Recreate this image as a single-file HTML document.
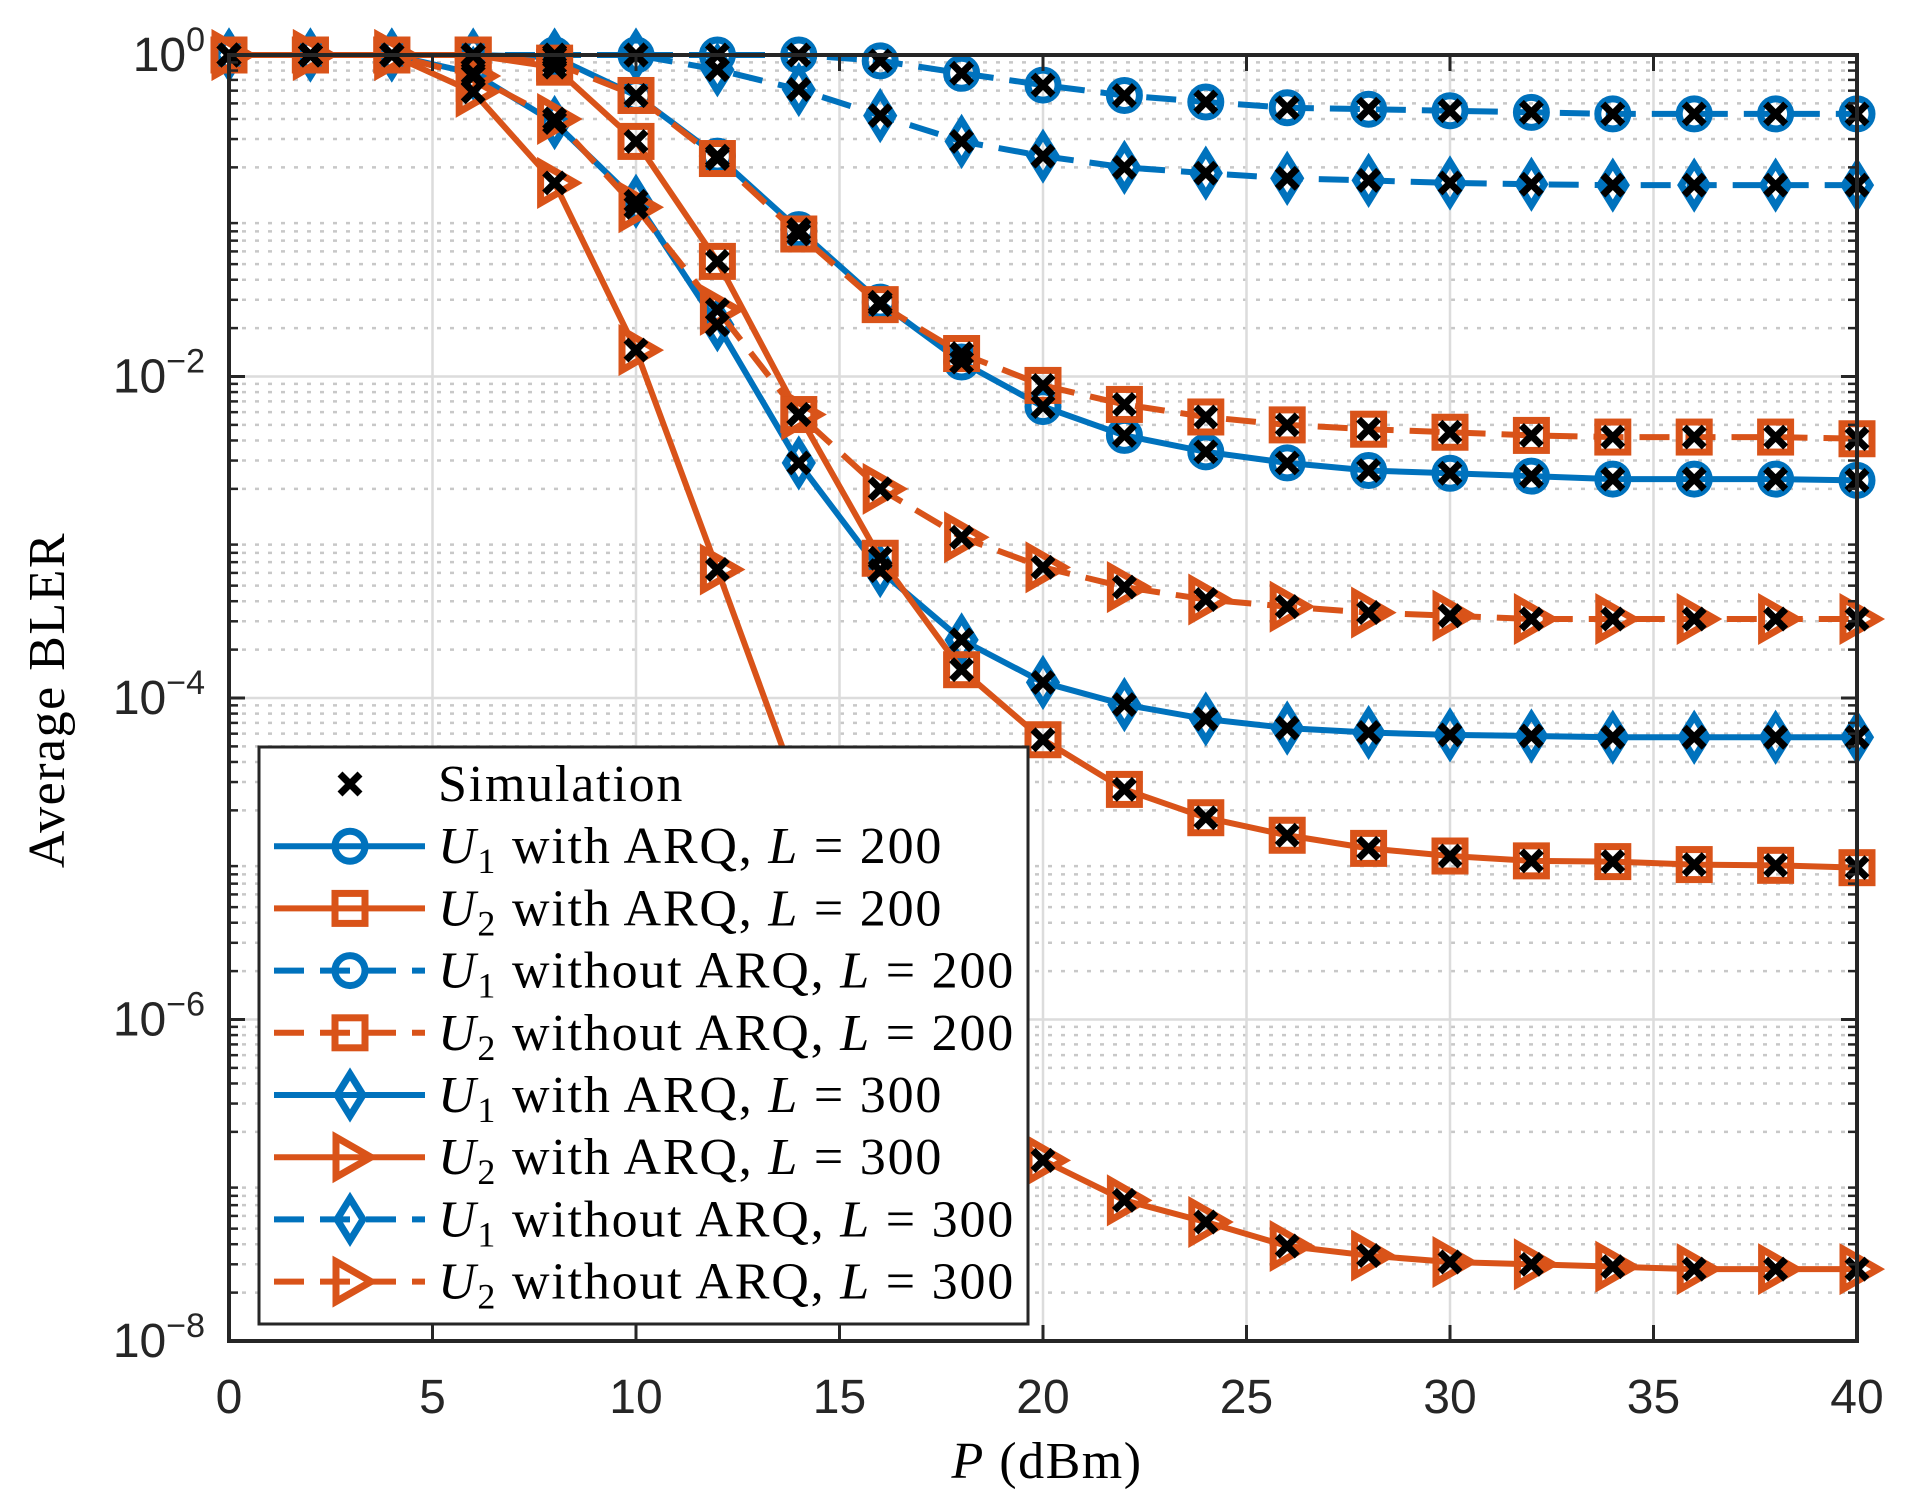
<!DOCTYPE html>
<html><head><meta charset="utf-8"><style>
html,body{margin:0;padding:0;background:#fff;}
svg{display:block;}
</style></head><body>
<svg id="chart" xmlns="http://www.w3.org/2000/svg" width="1910" height="1512" viewBox="0 0 1910 1512">
<rect x="0" y="0" width="1910" height="1512" fill="#fff"/>
<g id="grid"></g>
<g id="series"></g>
<g id="axes"></g>
<g id="legend"></g>
</svg>
<script>
const xValues = [0,2,4,6,8,10,12,14,16,18,20,22,24,26,28,30,32,34,36,38,40];
const xTicks = [0,5,10,15,20,25,30,35,40];
const yTickExps = [0,-2,-4,-6,-8];
const u1ArqL200 = [1,1,1,1,0.97,0.56,0.235,0.082,0.029,0.0123,0.0065,0.0043,0.0034,0.0029,0.0026,0.0025,0.0024,0.0023,0.0023,0.0023,0.00226];
const u2ArqL200 = [1,1,1,1,0.84,0.29,0.052,0.0058,7.4e-4,1.5e-4,5.5e-5,2.7e-5,1.8e-5,1.4e-5,1.16e-5,1.04e-5,9.7e-6,9.6e-6,9.2e-6,9.1e-6,8.8e-6];
const u1NoL200 = [1,1,1,1,1,1,1,1,0.92,0.77,0.65,0.56,0.51,0.47,0.46,0.45,0.44,0.43,0.43,0.43,0.43];
const u2NoL200 = [1,1,1,1,0.89,0.56,0.227,0.077,0.028,0.0139,0.0088,0.0067,0.0056,0.005,0.0047,0.0045,0.0043,0.0042,0.0042,0.0042,0.0041];
const u1ArqL300 = [1,1,1,0.77,0.38,0.123,0.021,0.0029,6.2e-4,2.3e-4,1.25e-4,9.1e-5,7.4e-5,6.5e-5,6.1e-5,5.9e-5,5.8e-5,5.7e-5,5.7e-5,5.7e-5,5.7e-5];
const u2ArqL300 = [1,1,1,0.59,0.16,0.0146,6.3e-4,2.6e-5,2.25e-6,3.6e-7,1.33e-7,7.5e-8,5.5e-8,3.9e-8,3.4e-8,3.1e-8,3.0e-8,2.9e-8,2.8e-8,2.8e-8,2.8e-8];
const u1NoL300 = [1,1,1,1,1,1,0.81,0.61,0.42,0.29,0.235,0.2,0.184,0.171,0.166,0.16,0.157,0.155,0.155,0.155,0.155];
const u2NoL300 = [1,1,1,0.74,0.4,0.113,0.026,0.0058,0.002,0.001,6.5e-4,4.9e-4,4.1e-4,3.7e-4,3.4e-4,3.25e-4,3.1e-4,3.1e-4,3.1e-4,3.1e-4,3.1e-4];

const NS='http://www.w3.org/2000/svg';
const X0=229,X1=1857,YT=55,YB=1341;
const xs=v=>X0+(v-0)/(40-0)*(X1-X0);
const ys=v=>YT+(-Math.log10(v))/8*(YB-YT);
const BLUE='#0072BD',RED='#D95319',AX='#262626';
function el(tag,attrs,parent){const e=document.createElementNS(NS,tag);for(const k in attrs)e.setAttribute(k,attrs[k]);parent.appendChild(e);return e;}
const grid=document.getElementById('grid'),axes=document.getElementById('axes'),ser=document.getElementById('series'),leg=document.getElementById('legend');

for(let d=0;d<8;d++){for(let m=2;m<=9;m++){const y=ys(m*Math.pow(10,-d-1));
 const g=el('line',{x1:X0,x2:X1,y1:y,y2:y,stroke:'#c8c8c8','stroke-width':2.5,'stroke-dasharray':'4 9'},grid);
 
 
 const t1=el('line',{x1:X0,x2:X0+9,y1:y,y2:y,stroke:AX,'stroke-width':2.5},axes);
 
 
 const t2=el('line',{x1:X1,x2:X1-9,y1:y,y2:y,stroke:AX,'stroke-width':2.5},axes);
 
 
}}
yTickExps.forEach(e=>{const y=ys(Math.pow(10,e));
 const g=el('line',{x1:X0,x2:X1,y1:y,y2:y,stroke:'#dcdcdc','stroke-width':2.5},grid);
 
 
 const t=el('line',{x1:X0,x2:X0+16,y1:y,y2:y,stroke:AX,'stroke-width':3},axes);
 
 
 const t2=el('line',{x1:X1,x2:X1-16,y1:y,y2:y,stroke:AX,'stroke-width':3},axes);
 
 
 const tx=el('text',{x:205,y:y+16,'text-anchor':'end','font-family':'Liberation Sans, sans-serif','font-size':48,fill:AX},axes);
 
 
 const a=document.createElementNS(NS,'tspan');a.textContent='10';tx.appendChild(a);
 const b=document.createElementNS(NS,'tspan');b.setAttribute('dy','-20');b.setAttribute('font-size','34');b.textContent=(e<0?'\u2212'+(-e):String(e));tx.appendChild(b);
});
xTicks.forEach(v=>{const x=xs(v);
 const g=el('line',{x1:x,x2:x,y1:YT,y2:YB,stroke:'#dcdcdc','stroke-width':2.5},grid);
 
 
 const t=el('line',{x1:x,x2:x,y1:YB,y2:YB-16,stroke:AX,'stroke-width':3},axes);
 
 
 const t2=el('line',{x1:x,x2:x,y1:YT,y2:YT+16,stroke:AX,'stroke-width':3},axes);
 
 
 const tx=el('text',{x:x,y:1413,'text-anchor':'middle','font-family':'Liberation Sans, sans-serif','font-size':48,fill:AX},axes);
 
 
 tx.textContent=String(v);
});
const box=el('rect',{x:X0,y:YT,width:X1-X0,height:YB-YT,fill:'none',stroke:AX,'stroke-width':4},axes);


const xl=el('text',{x:1047,y:1478,'text-anchor':'middle','font-family':'Liberation Serif, serif','font-size':52,fill:'#000','letter-spacing':1.5},axes);


xl.innerHTML='<tspan font-style="italic">P</tspan> (dBm)';
const yl=el('text',{x:0,y:0,'text-anchor':'middle','font-family':'Liberation Serif, serif','font-size':52,fill:'#000','letter-spacing':1.5,transform:'translate(64,700) rotate(-90)'},axes);


yl.textContent='Average BLER';

function marker(type,cx,cy,color,parent){
 let m;
 if(type==='circle')m=el('circle',{cx:cx,cy:cy,r:15,fill:'none',stroke:color,'stroke-width':7},parent);
 else if(type==='square')m=el('rect',{x:cx-15,y:cy-15,width:30,height:30,fill:'none',stroke:color,'stroke-width':7},parent);
 else if(type==='diamond')m=el('polygon',{points:`${cx},${cy-21} ${cx+13},${cy} ${cx},${cy+21} ${cx-13},${cy}`,fill:'none',stroke:color,'stroke-width':7},parent);
 else if(type==='tri')m=el('polygon',{points:`${cx-14},${cy-20} ${cx+21},${cy} ${cx-14},${cy+20}`,fill:'none',stroke:color,'stroke-width':7},parent);
 else {m=el('path',{d:`M${cx-10},${cy-10}L${cx+10},${cy+10}M${cx-10},${cy+10}L${cx+10},${cy-10}`,stroke:'#000','stroke-width':7,fill:'none'},parent);}
 return m;
}
const seriesList=[
 {name:'u1-no-arq-l200',data:u1NoL200,color:BLUE,dash:true,m:'circle'},
 {name:'u1-no-arq-l300',data:u1NoL300,color:BLUE,dash:true,m:'diamond'},
 {name:'u1-arq-l200',data:u1ArqL200,color:BLUE,dash:false,m:'circle'},
 {name:'u1-arq-l300',data:u1ArqL300,color:BLUE,dash:false,m:'diamond'},
 {name:'u2-no-arq-l200',data:u2NoL200,color:RED,dash:true,m:'square'},
 {name:'u2-no-arq-l300',data:u2NoL300,color:RED,dash:true,m:'tri'},
 {name:'u2-arq-l200',data:u2ArqL200,color:RED,dash:false,m:'square'},
 {name:'u2-arq-l300',data:u2ArqL300,color:RED,dash:false,m:'tri'},
];
seriesList.forEach(s=>{
 const g=el('g',{},ser);
 
 
 const pts=xValues.map((x,i)=>xs(x)+','+ys(s.data[i])).join(' ');
 const attrs={points:pts,fill:'none',stroke:s.color,'stroke-width':6,'stroke-linejoin':'round'};
 if(s.dash)attrs['stroke-dasharray']='30 16';
 const pl=el('polyline',attrs,g);
 
 
 xValues.forEach((x,i)=>{const m=marker(s.m,xs(x),ys(s.data[i]),s.color,g);
  
  });
});
const simG=el('g',{},ser);


seriesList.forEach(s=>{xValues.forEach((x,i)=>{const m=marker('x',xs(x),ys(s.data[i]),'#000',simG);
 
 });});

const lb=el('rect',{x:259,y:747,width:769,height:577,fill:'#fff',stroke:AX,'stroke-width':3},leg);


const legItems=[
 {m:'x',c:'#000',dash:null,u:null,txt:'Simulation'},
 {m:'circle',c:BLUE,dash:false,u:'1',txt:' with ARQ, ',L:'200'},
 {m:'square',c:RED,dash:false,u:'2',txt:' with ARQ, ',L:'200'},
 {m:'circle',c:BLUE,dash:true,u:'1',txt:' without ARQ, ',L:'200'},
 {m:'square',c:RED,dash:true,u:'2',txt:' without ARQ, ',L:'200'},
 {m:'diamond',c:BLUE,dash:false,u:'1',txt:' with ARQ, ',L:'300'},
 {m:'tri',c:RED,dash:false,u:'2',txt:' with ARQ, ',L:'300'},
 {m:'diamond',c:BLUE,dash:true,u:'1',txt:' without ARQ, ',L:'300'},
 {m:'tri',c:RED,dash:true,u:'2',txt:' without ARQ, ',L:'300'},
];
legItems.forEach((it,i)=>{
 const cy=784+i*62.2;
 const g=el('g',{},leg);
 
 
 if(it.dash!==null){const a={x1:274,x2:425,y1:cy,y2:cy,stroke:it.c,'stroke-width':6};if(it.dash)a['stroke-dasharray']='30 16';
  const ln=el('line',a,g);
  
  }
 const mk=marker(it.m,350,cy,it.c,g);
 
 
 const t=el('text',{x:438,y:cy+17,'font-family':'Liberation Serif, serif','font-size':52,fill:'#000','letter-spacing':1.8},g);
 
 
 if(it.u===null){t.textContent=it.txt;}
 else{t.innerHTML='<tspan font-style="italic">U</tspan><tspan font-size="36" dy="10">'+it.u+'</tspan><tspan dy="-10">'+it.txt+'</tspan><tspan font-style="italic">L</tspan> = '+it.L;}
});
</script>
</body></html>
